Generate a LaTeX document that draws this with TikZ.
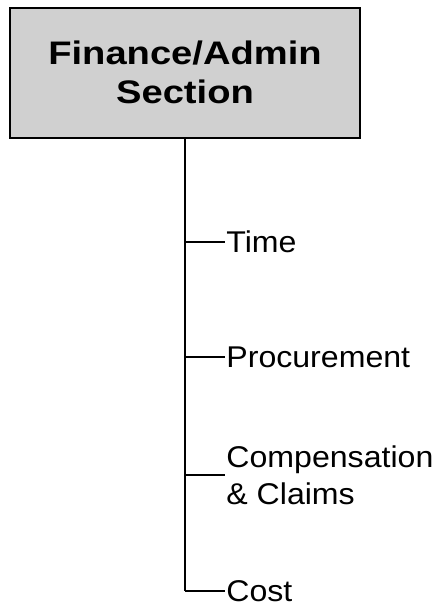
\documentclass[tikz,border=0pt]{standalone}
\usepackage{fontspec}
\setmainfont{Liberation Sans}[FakeStretch=1.07]
\newfontfamily\titlefont{Liberation Sans}[FakeStretch=1.17]
\definecolor{boxgray}{RGB}{208,208,208}
\tikzset{
    sectionbox/.style={draw,line width=1pt,fill=boxgray,minimum width=175pt,minimum height=65pt,
        align=center,font=\titlefont\bfseries\fontsize{16.3}{19.7}\selectfont},
    leaf/.style={anchor=west,inner sep=0.5pt,align=left,font=\fontsize{15}{18.5}\selectfont},
}
\begin{document}
\begin{tikzpicture}[x=0.5pt,y=-0.5pt]
        \useasboundingbox (0,0) rectangle (438,605);
        %% section
        \node[sectionbox] (finance) at (185,72.5) {Finance/Admin\\Section};
        %% tasks
        \foreach \name/\y/\txt in {time/242/Time,procurement/357/Procurement,claims/475/{Compensation\\\& Claims},cost/591/Cost}
            \node[leaf] (\name) at (225,\y) {\txt};
        %% trunk and branches
        \coordinate (trunk) at (finance.south |- cost.west);
        \draw[line width=1.2pt] (finance.south) -- (trunk);
        \foreach \name in {time,procurement,claims,cost} \draw[line width=0.7pt] (trunk |- \name.west) -- (\name.west);
\end{tikzpicture}
\end{document}
